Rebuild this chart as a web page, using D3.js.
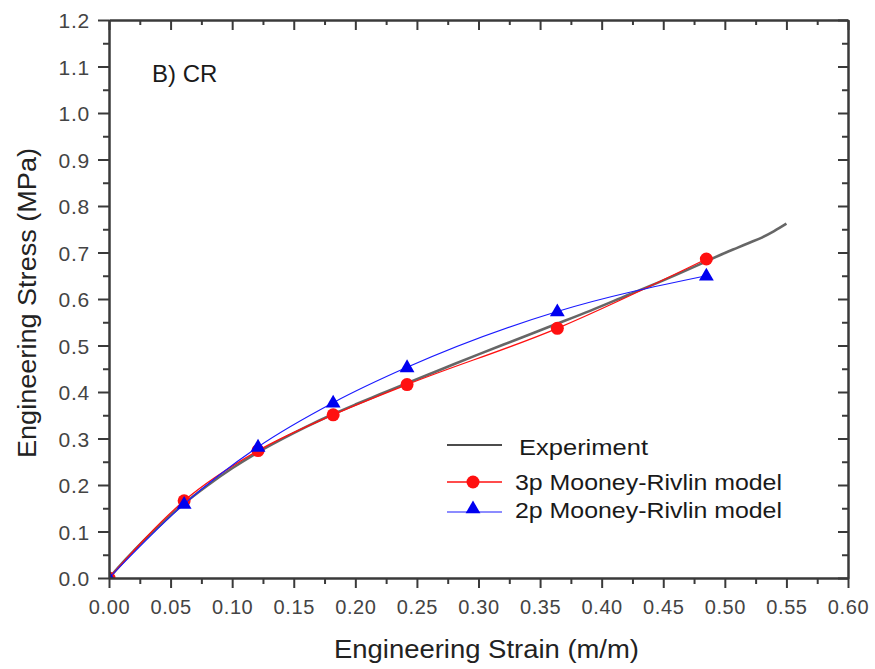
<!DOCTYPE html>
<html>
<head>
<meta charset="utf-8">
<script src="https://cdn.jsdelivr.net/npm/d3@7/dist/d3.min.js"></script>
<style>
  html, body { margin: 0; padding: 0; background: #fff; }
  svg { display: block; }
  text { font-family: "Liberation Sans", Arial, sans-serif; }
</style>
</head>
<body>
<svg id="chart" width="875" height="669"></svg>
<script>
// Experimental stress-strain curve (CR rubber)
const expStrain = [0, 0.01, 0.02, 0.03, 0.04, 0.05, 0.06, 0.08, 0.10, 0.12, 0.14, 0.16, 0.18, 0.20, 0.22, 0.24, 0.27, 0.30, 0.33, 0.36, 0.39, 0.42, 0.45, 0.48, 0.50, 0.51, 0.52, 0.53, 0.54, 0.55];
const expStress = [0, 0.030, 0.058, 0.085, 0.110, 0.135, 0.158, 0.199, 0.236, 0.269, 0.298, 0.325, 0.350, 0.373, 0.395, 0.417, 0.449, 0.481, 0.512, 0.543, 0.574, 0.607, 0.640, 0.675, 0.699, 0.710, 0.721, 0.732, 0.746, 0.762];

// Model predictions at the fitted strain levels
const modelStrain = [0, 0.061, 0.121, 0.182, 0.242, 0.364, 0.485];
const mr3Stress = [0, 0.166, 0.274, 0.351, 0.416, 0.537, 0.686];
const mr2Stress = [0, 0.159, 0.282, 0.377, 0.453, 0.573, 0.650];

// Axis ticks
const xTicks = [0, 0.05, 0.10, 0.15, 0.20, 0.25, 0.30, 0.35, 0.40, 0.45, 0.50, 0.55, 0.60];
const yTicks = [0, 0.1, 0.2, 0.3, 0.4, 0.5, 0.6, 0.7, 0.8, 0.9, 1.0, 1.1, 1.2];
const xMinor = xTicks.slice(0, -1).map(v => v + 0.025);
const yMinor = yTicks.slice(0, -1).map(v => v + 0.05);

const legendLabels = ["Experiment", "3p Mooney-Rivlin model", "2p Mooney-Rivlin model"];

const svg = d3.select("#chart");
const pLeft = 109, pRight = 848, pTop = 20, pBottom = 578;

const x = d3.scaleLinear().domain([0, 0.6]).range([pLeft, pRight]);
const y = d3.scaleLinear().domain([0, 1.2]).range([pBottom, pTop]);

const axisColor = "#3a3a3a";
const labelColor = "#444";

svg.append("defs").append("clipPath").attr("id", "plotClip")
  .append("rect").attr("x", pLeft).attr("y", pTop)
  .attr("width", pRight - pLeft).attr("height", pBottom - pTop);

// ---- Curves ----
const plot = svg.append("g").attr("clip-path", "url(#plotClip)");

const expData = expStrain.map((s, i) => [s, expStress[i]]);
const mr3Data = modelStrain.map((s, i) => [s, mr3Stress[i]]);
const mr2Data = modelStrain.map((s, i) => [s, mr2Stress[i]]);

const lineExp = d3.line().x(d => x(d[0])).y(d => y(d[1])).curve(d3.curveMonotoneX);
const lineModel = d3.line().x(d => x(d[0])).y(d => y(d[1])).curve(d3.curveMonotoneX);

plot.append("path").datum(expData)
  .attr("d", lineExp).attr("fill", "none")
  .attr("stroke", "#555").attr("stroke-width", 2.6).attr("opacity", 0.9);

plot.append("path").datum(mr3Data)
  .attr("d", lineModel).attr("fill", "none")
  .attr("stroke", "#ff1010").attr("stroke-width", 1.3);

plot.selectAll("circle.mr3").data(mr3Data).join("circle")
  .attr("class", "mr3")
  .attr("cx", d => x(d[0])).attr("cy", d => y(d[1])).attr("r", 6.5)
  .attr("fill", "#ff1010");

plot.append("path").datum(mr2Data)
  .attr("d", lineModel).attr("fill", "none")
  .attr("stroke", "#1a1aff").attr("stroke-width", 1.1);

const tri = d3.symbol().type(d3.symbolTriangle).size(95);
plot.selectAll("path.mr2").data(mr2Data).join("path")
  .attr("class", "mr2")
  .attr("d", tri)
  .attr("transform", d => `translate(${x(d[0])},${y(d[1]) + 0.5})`)
  .attr("fill", "#0000f0");

// ---- Axes ----
function styleAxis(g) {
  g.select(".domain").attr("stroke", axisColor).attr("stroke-width", 2);
  g.selectAll(".tick line").attr("stroke", axisColor).attr("stroke-width", 2);
}

// bottom
const gx = svg.append("g").attr("transform", `translate(0,${pBottom})`)
  .call(d3.axisBottom(x).tickValues(xTicks).tickSize(10).tickSizeOuter(0)
    .tickFormat(d3.format(".2f")));
styleAxis(gx);
gx.selectAll(".tick text").attr("fill", labelColor).attr("font-size", 20)
  .attr("letter-spacing", "0.6px").attr("dy", "0").attr("y", 36);
svg.append("g").attr("transform", `translate(0,${pBottom})`)
  .call(d3.axisBottom(x).tickValues(xMinor).tickSize(6).tickSizeOuter(0).tickFormat(""))
  .call(styleAxis);

// left
const gy = svg.append("g").attr("transform", `translate(${pLeft},0)`)
  .call(d3.axisLeft(y).tickValues(yTicks).tickSize(11).tickSizeOuter(0)
    .tickFormat(d3.format(".1f")));
styleAxis(gy);
gy.selectAll(".tick text").attr("fill", labelColor).attr("font-size", 21)
  .attr("letter-spacing", "0.8px").attr("x", -19).attr("dy", "0.36em");
svg.append("g").attr("transform", `translate(${pLeft},0)`)
  .call(d3.axisLeft(y).tickValues(yMinor).tickSize(6).tickSizeOuter(0).tickFormat(""))
  .call(styleAxis);

// top (inward ticks)
svg.append("g").attr("transform", `translate(0,${pTop})`)
  .call(d3.axisBottom(x).tickValues(xTicks).tickSize(10).tickSizeOuter(0).tickFormat(""))
  .call(styleAxis);
svg.append("g").attr("transform", `translate(0,${pTop})`)
  .call(d3.axisBottom(x).tickValues(xMinor).tickSize(5).tickSizeOuter(0).tickFormat(""))
  .call(styleAxis);

// right (inward ticks)
svg.append("g").attr("transform", `translate(${pRight},0)`)
  .call(d3.axisLeft(y).tickValues(yTicks).tickSize(10).tickSizeOuter(0).tickFormat(""))
  .call(styleAxis);
svg.append("g").attr("transform", `translate(${pRight},0)`)
  .call(d3.axisLeft(y).tickValues(yMinor).tickSize(6).tickSizeOuter(0).tickFormat(""))
  .call(styleAxis);

// ---- Axis titles ----
svg.append("text")
  .attr("x", (pLeft + pRight) / 2 + 8).attr("y", 658)
  .attr("text-anchor", "middle").attr("font-size", 25).attr("fill", "#222")
  .attr("textLength", 305).attr("lengthAdjust", "spacingAndGlyphs")
  .text("Engineering Strain (m/m)");

svg.append("text")
  .attr("transform", "translate(36,303) rotate(-90)")
  .attr("text-anchor", "middle").attr("font-size", 25).attr("fill", "#222")
  .attr("textLength", 310).attr("lengthAdjust", "spacingAndGlyphs")
  .text("Engineering Stress (MPa)");

// ---- Panel label ----
svg.append("text")
  .attr("x", 152).attr("y", 82)
  .attr("font-size", 24).attr("fill", "#1a1a1a")
  .text("B) CR");

// ---- Legend ----
const legend = svg.append("g");
const legRows = [
  { y: 445, color: "#111", w: 1.6, mark: null, ty: 455, tx: 519, tl: 129 },
  { y: 482, color: "#ff1010", w: 1.3, mark: "circle", ty: 490, tx: 515, tl: 267 },
  { y: 512, color: "#1a1aff", w: 1.1, mark: "tri", ty: 518, tx: 515, tl: 267 }
];
legRows.forEach((r, i) => {
  legend.append("line")
    .attr("x1", 447).attr("x2", 502).attr("y1", r.y).attr("y2", r.y)
    .attr("stroke", r.color).attr("stroke-width", r.w);
  if (r.mark === "circle") {
    legend.append("circle").attr("cx", 473).attr("cy", r.y).attr("r", 6.5).attr("fill", "#ff1010");
  } else if (r.mark === "tri") {
    legend.append("path").attr("d", tri).attr("transform", `translate(473,${r.y - 3})`).attr("fill", "#0000f0");
  }
  legend.append("text")
    .attr("x", r.tx).attr("y", r.ty)
    .attr("font-size", 22).attr("fill", "#1a1a1a")
    .attr("textLength", r.tl).attr("lengthAdjust", "spacingAndGlyphs")
    .text(legendLabels[i]);
});
</script>
</body>
</html>
